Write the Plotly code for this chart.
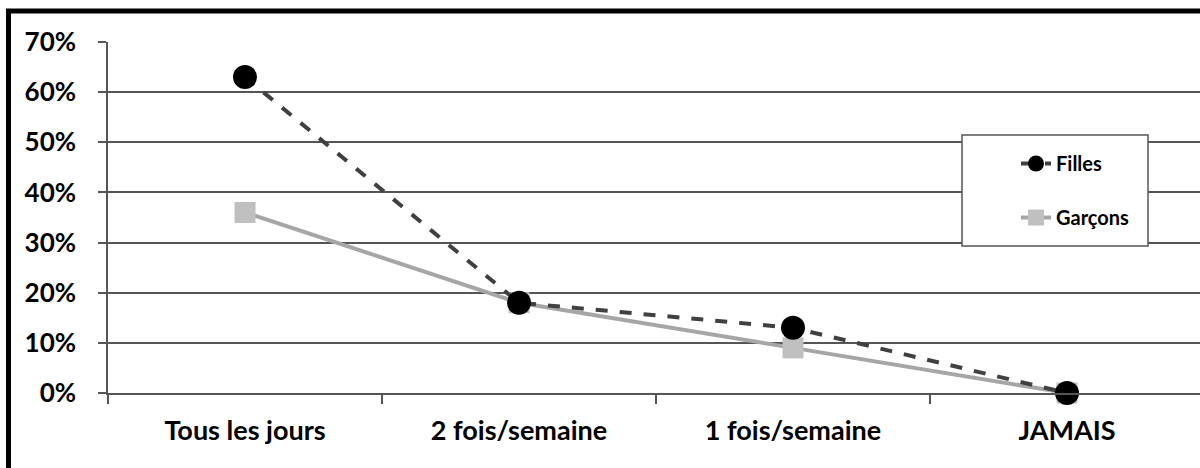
import plotly.graph_objects as go

categories = ["Tous les jours", "2 fois/semaine", "1 fois/semaine", "JAMAIS"]
filles = [0.63, 0.18, 0.13, 0.0]
garcons = [0.36, 0.18, 0.09, 0.0]
y_ticks = [0, 0.1, 0.2, 0.3, 0.4, 0.5, 0.6, 0.7]
y_labels = ["0%", "10%", "20%", "30%", "40%", "50%", "60%", "70%"]

FONT = "Lato"
GRID = "#555555"

FW, FH = 1200, 468
# plot area in pixels (the chart is cropped on the right, like the original)
L, R, T, B = 108, 1200, 42, 393
W, H = R - L, B - T


def px_x(p):
    return (p - L) / W


def px_y(p):
    return (B - p) / H


fig = go.Figure()

fig.add_trace(go.Scatter(
    x=categories, y=garcons, name="Garçons", mode="lines+markers",
    legendgroup="g", legendrank=2,
    line=dict(color="#a6a6a6", width=4),
    marker=dict(symbol="square", size=21, color="#c0c0c0"),
    cliponaxis=False,
))
fig.add_trace(go.Scatter(
    x=categories, y=filles, name="Filles", mode="lines+markers",
    legendgroup="f", legendrank=1,
    line=dict(color="#404040", width=4, dash="dash"),
    marker=dict(symbol="circle", size=24, color="#000000"),
    cliponaxis=False,
))

# outer frame (cropped on right/bottom) and legend box
fig.add_shape(type="rect", xref="paper", yref="paper",
              x0=px_x(8.5), x1=px_x(1260), y0=px_y(11), y1=px_y(520),
              line=dict(color="black", width=5), layer="above")
fig.add_shape(type="rect", xref="paper", yref="paper",
              x0=px_x(962), x1=px_x(1148), y0=px_y(135), y1=px_y(246),
              fillcolor="white", line=dict(color=GRID, width=1.5), layer="above")

fig.update_layout(
    width=FW, height=FH,
    paper_bgcolor="white", plot_bgcolor="white",
    margin=dict(l=L, r=FW - R, t=T, b=FH - B),
    font=dict(family=FONT, color="black", size=18, weight="bold"),
    showlegend=True,
    legend=dict(
        x=px_x(1016), y=px_y(144), xanchor="left", yanchor="top",
        bgcolor="rgba(0,0,0,0)", borderwidth=0,
        font=dict(family=FONT, size=20, weight="bold"),
        tracegroupgap=25, traceorder="grouped",
    ),
    xaxis=dict(
        type="category", range=[-0.5, 3.5 - 4 / 274],
        showgrid=False, showline=True, linecolor=GRID, linewidth=1.5,
        ticks="outside", tickson="boundaries", ticklen=9, tickcolor=GRID, tickwidth=1.5,
        ticklabelstandoff=13,
        tickfont=dict(family=FONT, size=27, weight="bold"),
    ),
    yaxis=dict(
        range=[0, 0.7], tickvals=y_ticks, ticktext=y_labels,
        showgrid=True, gridcolor=GRID, gridwidth=1.5, zeroline=False,
        showline=True, linecolor=GRID, linewidth=1.5,
        ticks="outside", ticklen=8, tickcolor=GRID, tickwidth=1.5,
        ticklabelstandoff=17,
        tickfont=dict(family=FONT, size=26, weight="bold"),
    ),
)

# drop the default 8px page margin so the figure fills the window exactly
fig.write_html(
    "out.html",
    config={"displayModeBar": False},
    post_script="document.body.style.margin='0';"
                "document.documentElement.style.overflow='hidden';",
)
